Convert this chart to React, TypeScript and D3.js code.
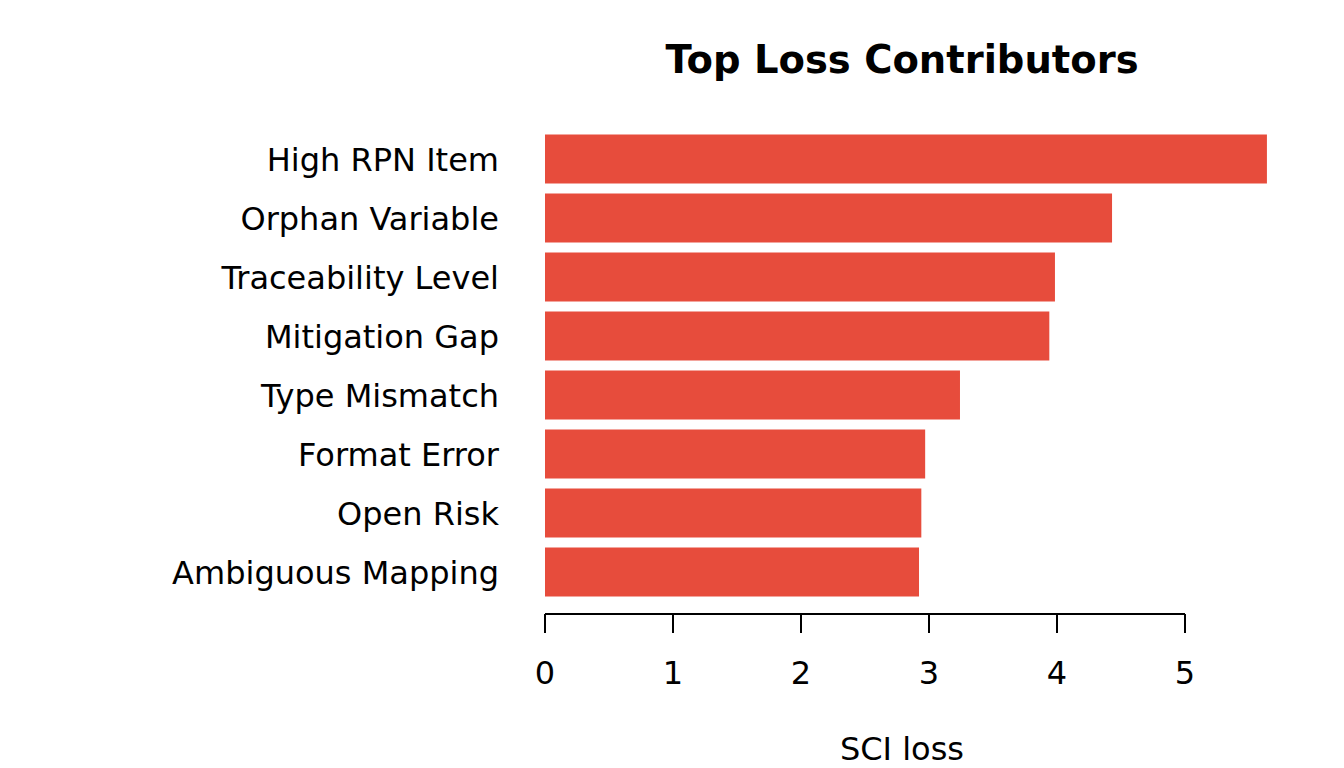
import React from "react";
import * as d3 from "d3";

const categories = [
  "High RPN Item",
  "Orphan Variable",
  "Traceability Level",
  "Mitigation Gap",
  "Type Mismatch",
  "Format Error",
  "Open Risk",
  "Ambiguous Mapping",
];
const values = [5.64, 4.43, 3.984, 3.94, 3.242, 2.97, 2.94, 2.922];
const xTicks = [0, 1, 2, 3, 4, 5];
const title = "Top Loss Contributors";
const xLabel = "SCI loss";

const W = 1344;
const H = 768;
const FONT = "'DejaVu Sans', sans-serif";
const BAR = "#E74C3C";

export default function App() {
  const x = d3.scaleLinear().domain([0, 5]).range([545, 1185]);
  const pad = 10 / 59;
  const y = d3
    .scaleBand<string>()
    .domain(categories)
    .range([129.5, 601.5])
    .paddingInner(pad)
    .paddingOuter(pad / 2);
  const axisY = 614;

  return (
    <svg
      width={W}
      height={H}
      style={{ position: "absolute", left: 0, top: 0, background: "#fff" }}
      fontFamily={FONT}
    >
      <rect x={0} y={0} width={W} height={H} fill="#fff" />
      <text x={902} y={73} textAnchor="middle" fontSize={38.5} fontWeight="bold" fill="#000">
        {title}
      </text>
      {categories.map((c, i) => (
        <g key={c}>
          <rect
            x={x(0)}
            y={y(c)!}
            width={x(values[i]) - x(0)}
            height={y.bandwidth()}
            fill={BAR}
          />
          <text
            x={499}
            y={y(c)! + y.bandwidth() / 2 + 11.5}
            textAnchor="end"
            fontSize={32}
            fill="#000"
          >
            {c}
          </text>
        </g>
      ))}
      <line x1={x(0)} x2={x(5)} y1={axisY} y2={axisY} stroke="#000" strokeWidth={2} />
      {xTicks.map((t) => (
        <g key={t}>
          <line x1={x(t)} x2={x(t)} y1={axisY} y2={axisY + 19} stroke="#000" strokeWidth={2} />
          <text x={x(t)} y={684} textAnchor="middle" fontSize={32} fill="#000">
            {t}
          </text>
        </g>
      ))}
      <text x={902} y={760} textAnchor="middle" fontSize={32} fill="#000">
        {xLabel}
      </text>
    </svg>
  );
}
